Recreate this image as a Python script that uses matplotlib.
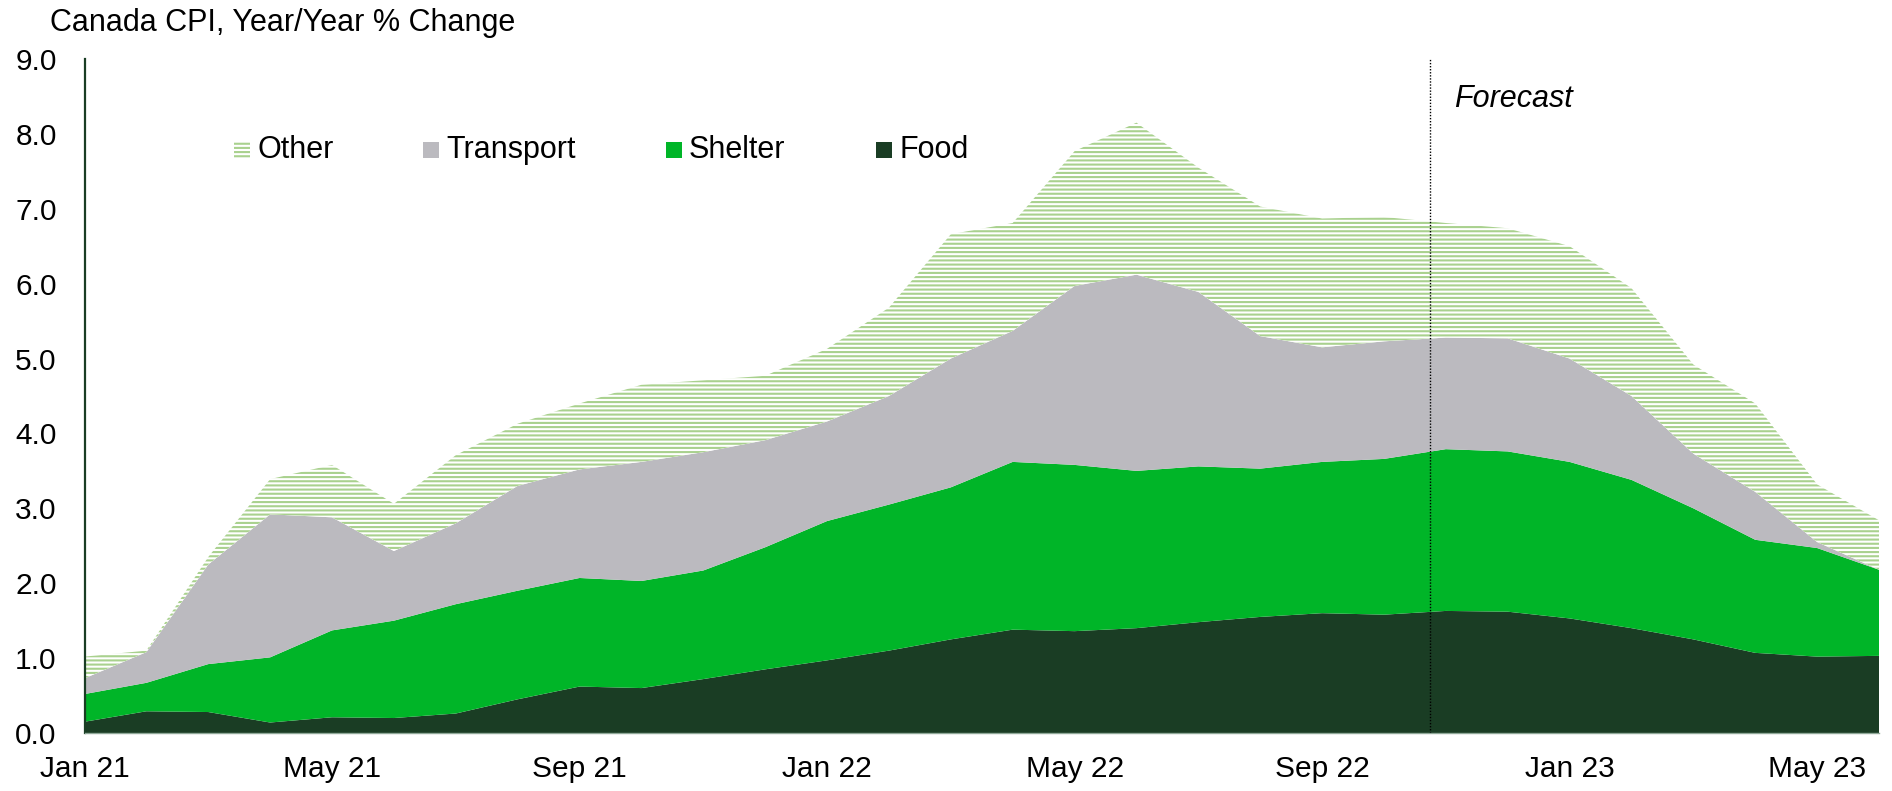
import matplotlib
matplotlib.use("Agg")
import matplotlib.pyplot as plt
from matplotlib.patches import Rectangle
import numpy as np

plt.rcParams['font.family'] = ['Liberation Sans', 'DejaVu Sans']
plt.rcParams['hatch.linewidth'] = 1.5

months = ["Jan 21", "Feb 21", "Mar 21", "Apr 21", "May 21", "Jun 21", "Jul 21", "Aug 21",
          "Sep 21", "Oct 21", "Nov 21", "Dec 21", "Jan 22", "Feb 22", "Mar 22", "Apr 22",
          "May 22", "Jun 22", "Jul 22", "Aug 22", "Sep 22", "Oct 22", "Nov 22", "Dec 22",
          "Jan 23", "Feb 23", "Mar 23", "Apr 23", "May 23", "Jun 23"]

food = [0.15, 0.29, 0.28, 0.14, 0.21, 0.20, 0.26, 0.45, 0.62, 0.60, 0.72, 0.85, 0.97, 1.10, 1.25,
        1.38, 1.36, 1.40, 1.48, 1.55, 1.60, 1.58, 1.63, 1.62, 1.53, 1.40, 1.25, 1.07, 1.02, 1.03]
shelter = [0.37, 0.38, 0.64, 0.87, 1.16, 1.30, 1.46, 1.45, 1.45, 1.43, 1.45, 1.63, 1.86, 1.95, 2.03,
           2.24, 2.22, 2.10, 2.08, 1.98, 2.02, 2.08, 2.16, 2.14, 2.09, 1.98, 1.75, 1.51, 1.45, 1.15]
transport = [0.21, 0.41, 1.33, 1.91, 1.51, 0.93, 1.08, 1.40, 1.45, 1.59, 1.58, 1.43, 1.33, 1.45, 1.72,
             1.75, 2.39, 2.62, 2.33, 1.77, 1.53, 1.57, 1.49, 1.51, 1.38, 1.12, 0.73, 0.64, 0.08, 0.00]
other = [0.29, 0.02, 0.10, 0.47, 0.70, 0.63, 0.91, 0.83, 0.88, 1.03, 0.96, 0.86, 0.97, 1.18, 1.66,
         1.44, 1.80, 2.03, 1.66, 1.73, 1.72, 1.66, 1.53, 1.47, 1.50, 1.44, 1.19, 1.18, 0.77, 0.66]

series_names = ["Other", "Transport", "Shelter", "Food"]
forecast_pos = 21.75
yticks = [0.0, 1.0, 2.0, 3.0, 4.0, 5.0, 6.0, 7.0, 8.0, 9.0]

C_FOOD = "#1a3d24"
C_SHELTER = "#00b528"
C_TRANSPORT = "#bbbabf"
C_OTHER = "#a9d18e"

FS = 22
FS_TICK = 21.5

W, H = 1892, 791
fig = plt.figure(figsize=(W / 100, H / 100), dpi=100)
ax = fig.add_axes([84.5 / W, (H - 733) / H, (1879 - 84.5) / W, (733 - 59) / H])

x = np.arange(len(months))
ax.stackplot(x, food, shelter, transport, colors=[C_FOOD, C_SHELTER, C_TRANSPORT], linewidth=0)
base = np.array(food) + np.array(shelter) + np.array(transport)
top = base + np.array(other)
ax.fill_between(x, base, top, facecolor="white", edgecolor=C_OTHER, hatch="----", linewidth=0)

ax.axvline(forecast_pos, ymin=0, ymax=1, color="black", linestyle=(0, (1, 1.2)), linewidth=1.0)
ax.text(forecast_pos + 0.38, 8.46, "Forecast", fontsize=FS, style="italic", ha="left", va="center")

ax.set_xlim(0, len(months) - 1)
ax.set_ylim(0, 9)
ax.set_yticks(yticks)
ax.set_yticklabels([f"{v:.1f}" for v in yticks])
ax.set_xticks(x[::4])
ax.set_xticklabels(months[::4])
ax.tick_params(axis="both", length=0, labelsize=FS_TICK)
ax.tick_params(axis="y", pad=20)
ax.tick_params(axis="x", pad=16)

for s in ["top", "right"]:
    ax.spines[s].set_visible(False)
ax.spines["left"].set_color(C_FOOD)
ax.spines["left"].set_linewidth(1.6)
ax.spines["bottom"].set_color("#8fa898")
ax.spines["bottom"].set_linewidth(1.0)

# Legend (manual)
leg_x = [242, 431, 674, 884]
leg_y = 150
msz = 16
fills = [dict(facecolor="white", edgecolor=C_OTHER, hatch="----", linewidth=0),
         dict(facecolor=C_TRANSPORT, linewidth=0),
         dict(facecolor=C_SHELTER, linewidth=0),
         dict(facecolor=C_FOOD, linewidth=0)]
for name, lx, st in zip(series_names, leg_x, fills):
    r = Rectangle(((lx - msz / 2) / W, (H - leg_y - msz / 2) / H), msz / W, msz / H,
                  transform=fig.transFigure, **st)
    fig.patches.append(r)
    fig.text((lx + 15) / W, (H - leg_y) / H, name, fontsize=FS, ha="left", va="center")

fig.text(50 / W, (H - 23) / H, "Canada CPI, Year/Year % Change", fontsize=FS, ha="left", va="center")

fig.savefig("out.png", dpi=100, facecolor="white")
